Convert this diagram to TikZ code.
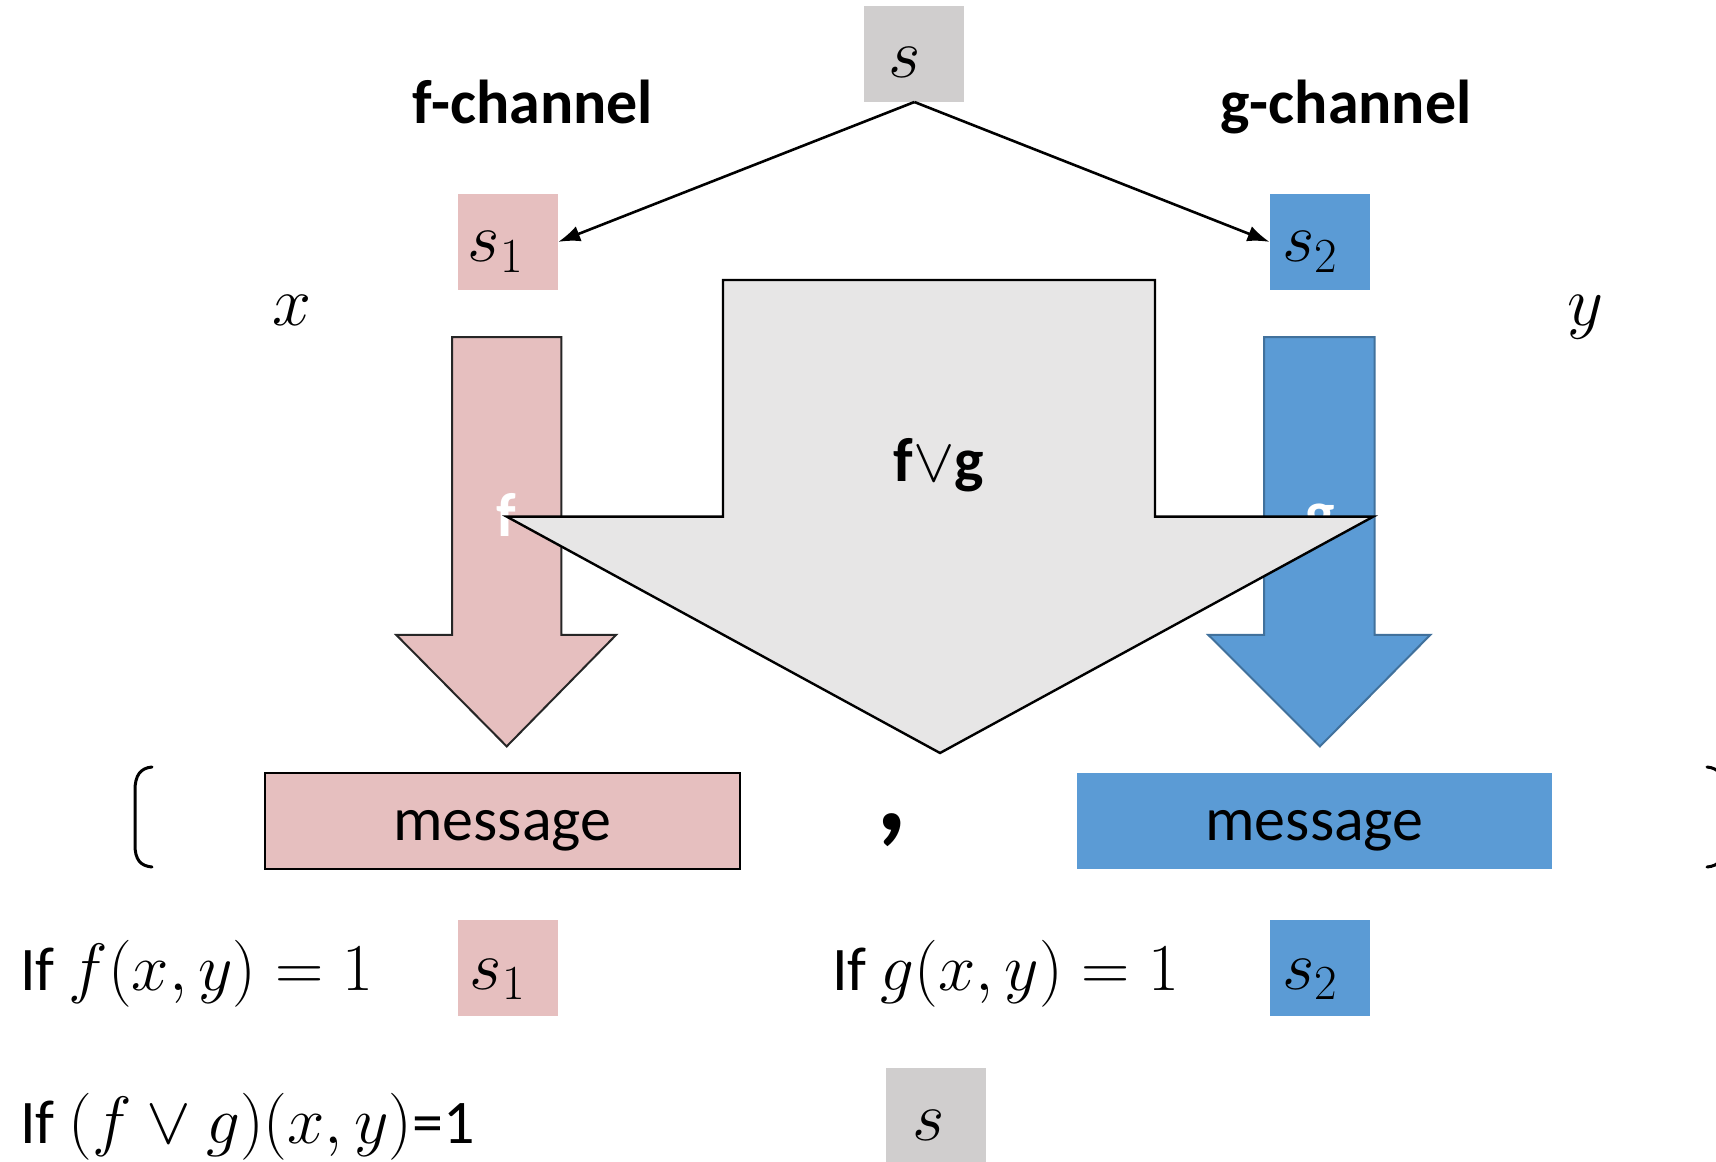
\RequirePackage{fix-cm}
\documentclass[tikz,border=0pt]{standalone}
\usepackage{fontspec}
\setmainfont{Carlito}
\usetikzlibrary{arrows.meta}
\definecolor{pinkc}{HTML}{E6BFBF}
\definecolor{bluec}{HTML}{5B9BD5}
\definecolor{blueb}{HTML}{41719C}
\definecolor{grayc}{HTML}{D0CECE}
\definecolor{grayarr}{HTML}{E7E6E6}
\newcommand{\mathbigger}[1]{{\fontsize{33.5}{36}\selectfont$#1$}}
\tikzset{
  sbox/.style={minimum width=50pt, minimum height=48pt, inner sep=0pt},
  mlab/.style={inner sep=0pt, font=\fontsize{35}{38}\selectfont},
  msgbox/.style={minimum width=237.5pt, minimum height=48.2pt, inner sep=0pt},
  txt/.style={inner sep=0pt, font=\fontsize{31}{36}\selectfont},
  btxt/.style={inner sep=0pt, font=\fontsize{31}{36}\selectfont\bfseries},
  conn/.style={line width=1.3pt, -{Latex[length=11pt,width=8pt]}},
  fatpink/.style={fill=pinkc, draw=black!85, line width=1pt},
  fatblue/.style={fill=bluec, draw=blueb, line width=1pt},
  fatgray/.style={fill=grayarr, draw=black, line width=1.2pt, line join=miter},
  paren/.style={line width=1.5pt, line cap=round}
}
\begin{document}
\begin{tikzpicture}[x=0.5pt, y=-0.5pt]
\useasboundingbox (0,0) rectangle (1716,1161);

% pink arrow
\draw[fatpink] (452,337) -- (561.4,337) -- (561.4,634.8) -- (616.2,634.8) -- (506.7,746.4) -- (396.2,634.8) -- (452,634.8) -- cycle;
\node[btxt, text=white, anchor=base] (flab) at (506.7,536) {f};
% blue arrow
\draw[fatblue] (1264,337) -- (1374.6,337) -- (1374.6,634.8) -- (1430.4,634.8) -- (1319.9,746.4) -- (1208.2,634.8) -- (1264,634.8) -- cycle;
\node[btxt, text=white, anchor=base] (glab) at (1320,534) {g};
% gray arrow
\draw[fatgray] (723,280) -- (1155,280) -- (1155,516.6) -- (1373.3,516.6) -- (940,753) -- (506.7,516.6) -- (723,516.6) -- cycle;
\node[btxt, anchor=base] (fvg) at (939,481.5) {f$\vee$g};

% top boxes
\node[sbox, fill=grayc] (s) at (914.4,53.6) {};
\node[mlab] (st) at ([shift={(-10,9)}]s.center) {$s$};
\node[sbox, fill=pinkc] (s1) at (507.8,241.9) {};
\node[mlab] (s1t) at ([shift={(-12,10)}]s1.center) {$s_1$};
\node[sbox, fill=bluec] (s2) at (1319.9,241.9) {};
\node[mlab] (s2t) at ([shift={(-10,10)}]s2.center) {$s_2$};
\draw[conn] (s.south) -- (s1.east);
\draw[conn] (s.south) -- (s2.west);

\node[btxt, anchor=base] (fch) at (533,123.7) {f-channel};
\node[btxt, anchor=base] (gch) at (1346,123.7) {g-channel};
\node[mlab, anchor=base] (xl) at (292,325) {$x$};
\node[mlab, anchor=base] (yl) at (1585,325) {$y$};

% message row
\node[msgbox, fill=pinkc, draw=black, line width=1pt] (m1) at (502.3,820.9) {};
\node[txt, anchor=base] (m1t) at (502.3,840) {message};
\node[msgbox, fill=bluec] (m2) at (1314.4,820.9) {};
\node[txt, anchor=base] (m2t) at (1314.4,840) {message};
\node[inner sep=0pt, font=\fontsize{60}{60}\selectfont\bfseries, anchor=base] (comma) at (892,830) {,};
\draw[paren] (152,767) .. controls (140,768) and (135,776) .. (135,790) -- (135,845) .. controls (135,859) and (140,866) .. (152,867);
\draw[paren] (1707,767) .. controls (1719,768) and (1724,776) .. (1724,790) -- (1724,845) .. controls (1724,859) and (1719,866) .. (1707,867);

% bottom rows
\node[txt, anchor=base west] (c1) at (19.7,990) {If \mathbigger{f(x,y) = 1}};
\node[sbox, fill=pinkc] (b1) at (507.8,967.5) {};
\node[mlab] (b1t) at ([shift={(-10,12)}]b1.center) {$s_1$};
\node[txt, anchor=base west] (c2) at (831.7,990) {If \mathbigger{g(x,y) = 1}};
\node[sbox, fill=bluec] (b2) at (1319.9,967.5) {};
\node[mlab] (b2t) at ([shift={(-10,12)}]b2.center) {$s_2$};
\node[txt, anchor=base west] (c3) at (19.7,1143.6) {If \mathbigger{(f\vee g)(x,y)}=1};
\node[sbox, fill=grayc] (b3) at (936.3,1115.5) {};
\node[mlab] (b3t) at ([shift={(-8,10)}]b3.center) {$s$};
\end{tikzpicture}
\end{document}
